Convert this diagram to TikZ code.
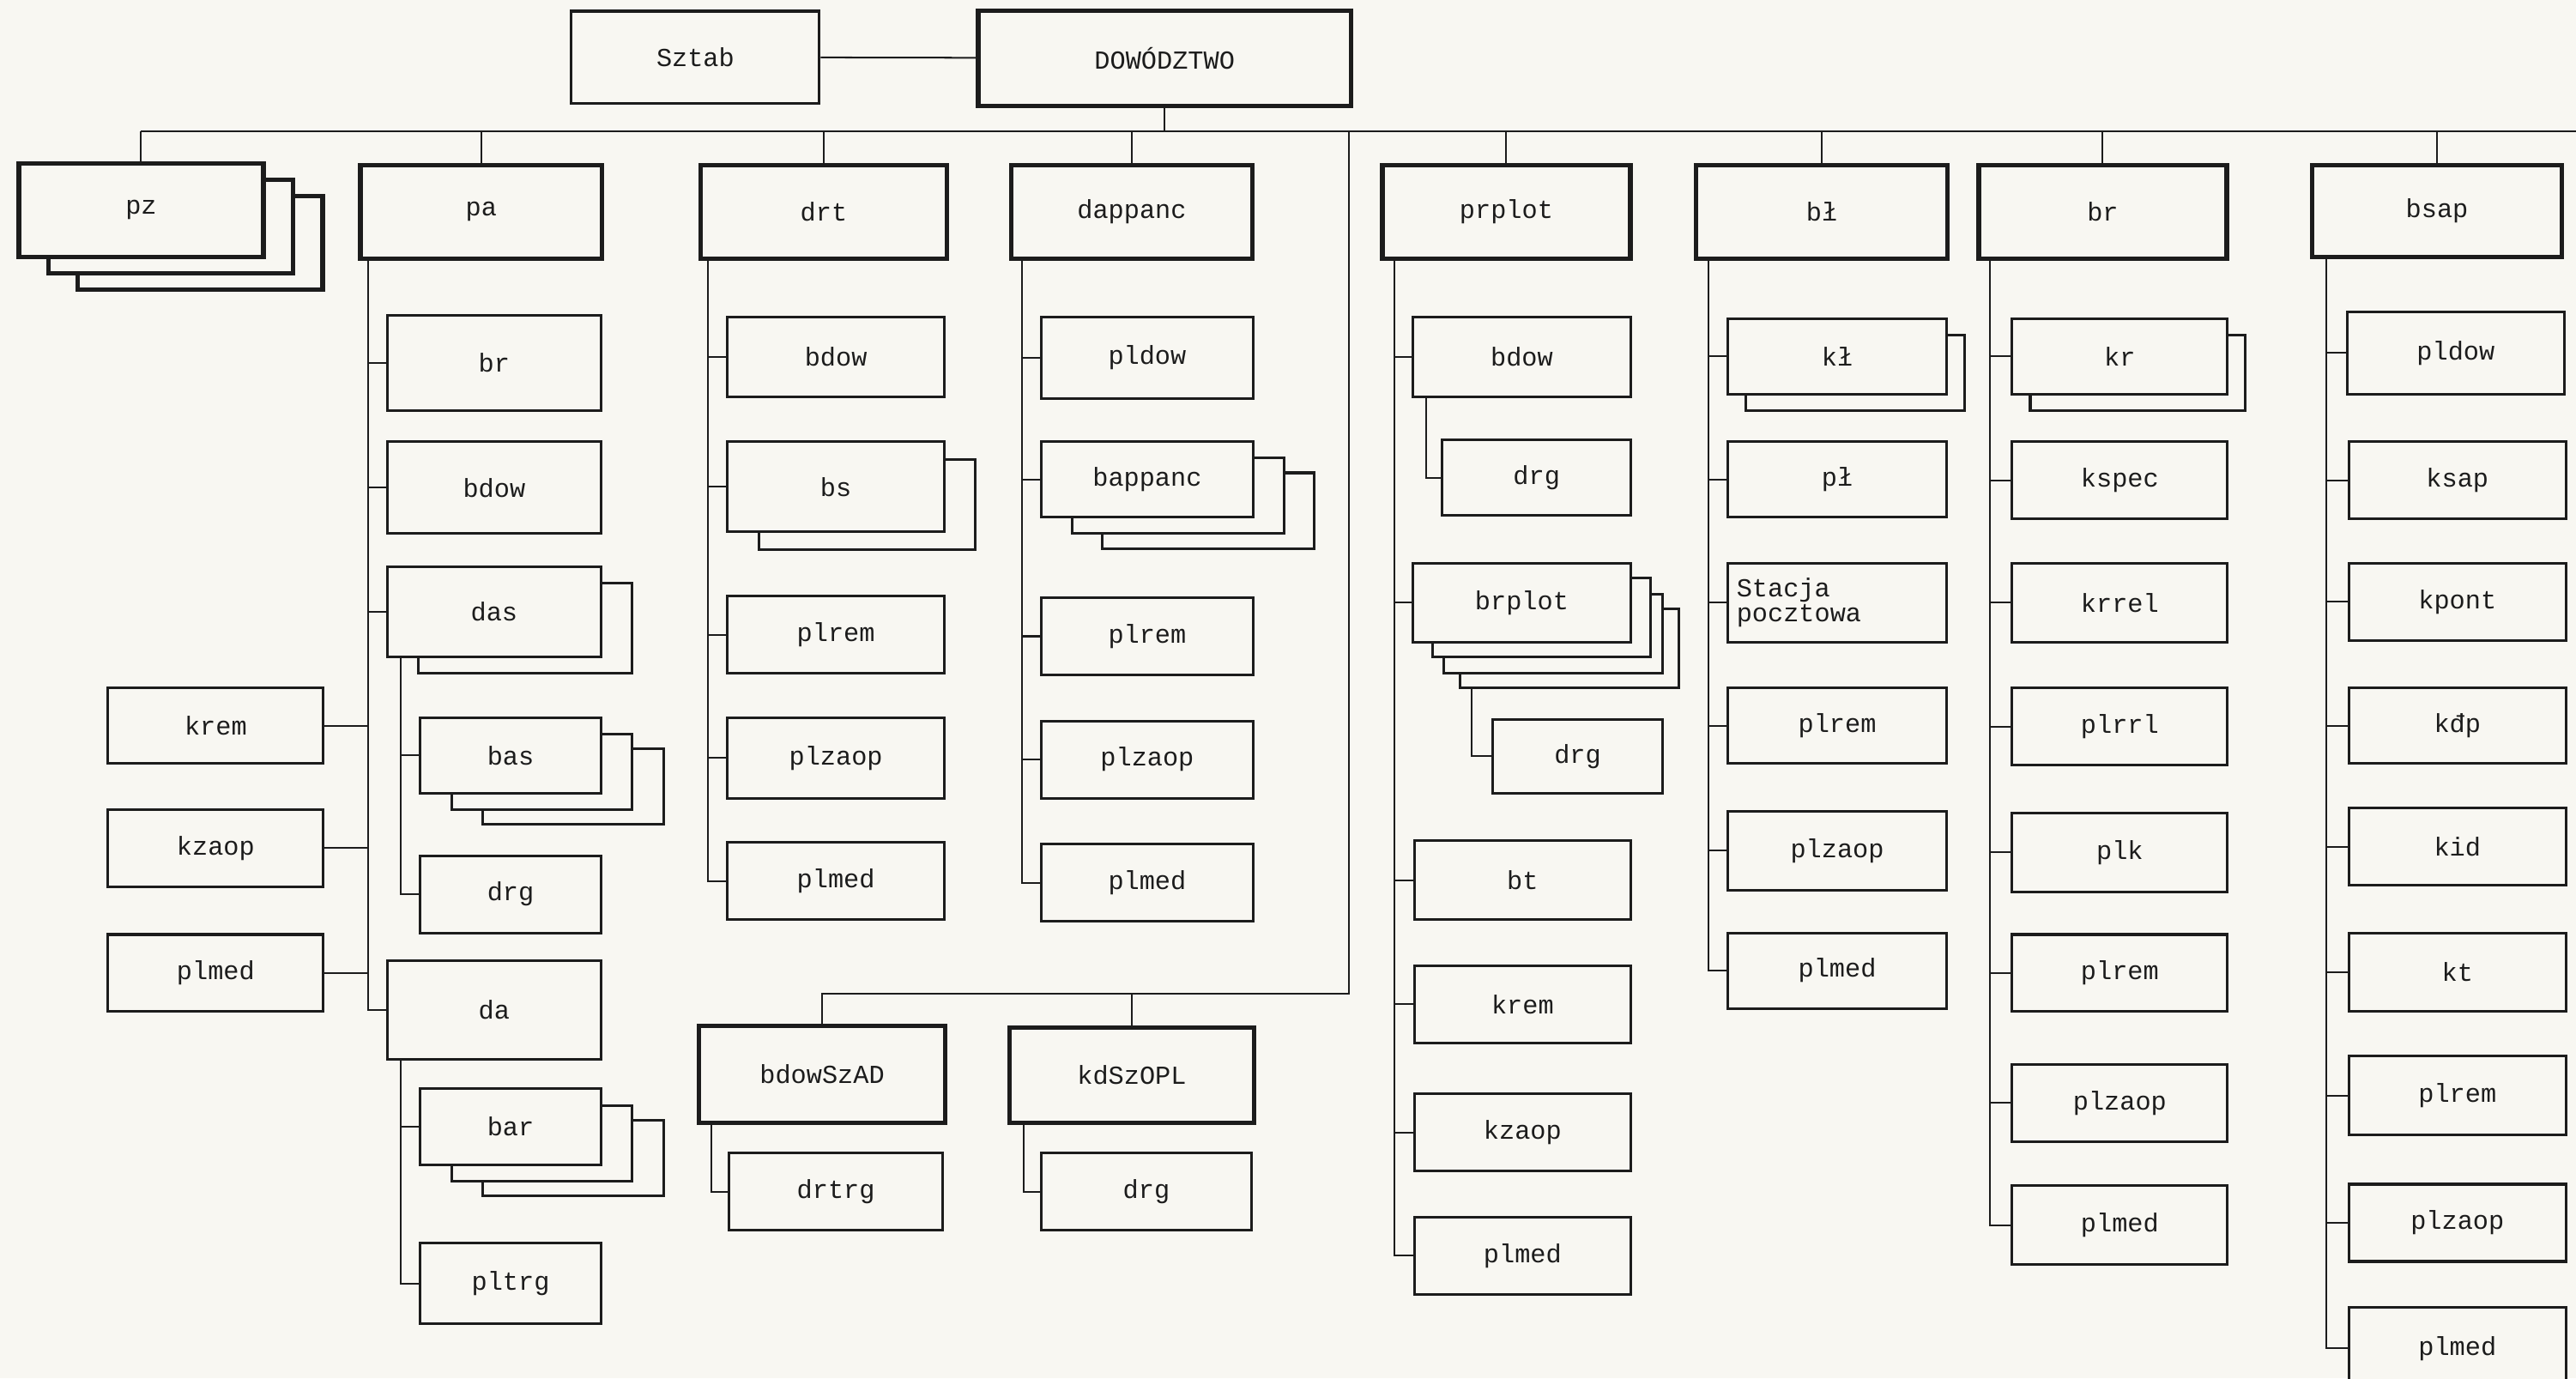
\documentclass[tikz,border=0pt]{standalone}
\usepackage{fontspec}
\setmonofont{Liberation Mono}
\usetikzlibrary{shadows}
\definecolor{paper}{HTML}{F8F7F2}
\definecolor{ink}{HTML}{1C1C1C}

\begin{document}
\begin{tikzpicture}[
  x=0.02cm, y=-0.02cm,
  box/.style={draw=ink, fill=paper, line width=0.9pt, anchor=north west, inner sep=0pt, text=ink, font=\ttfamily\fontsize{9}{9}\selectfont},
  head/.style={box, line width=1.6pt},
  sz/.style 2 args={minimum width=#1*0.02cm, minimum height=#2*0.02cm},
  shad/.style 2 args={copy shadow={shadow xshift=#1*0.02cm, shadow yshift=-#2*0.02cm, fill=paper, draw=ink}},
  link/.style={draw=ink, line width=0.6pt}
]
\useasboundingbox (0,0) rectangle (1568,839);
\fill[paper] (0,0) rectangle (1568,839);
\clip (0,0) rectangle (1568,839);

% top
\node[box, sz={151}{56}] (sztab) at (347,6) {Sztab};
\node[head, sz={227}{58}] (dow) at (594,5) {DOWÓDZTWO};

\node[head, sz={149}{57}, shad={36}{20}, shad={18}{10}] (pz) at (10,98) {pz};
\node[head, sz={147}{57}] (pa) at (218,99) {pa};
\node[head, sz={150}{57}] (drt) at (425,99) {drt};
\node[head, sz={147}{57}] (dappanc) at (614,99) {dappanc};
\node[head, sz={151}{57}] (prplot) at (840,99) {prplot};
\node[head, sz={153}{57}] (bl) at (1031,99) {bł};
\node[head, sz={151}{57}] (br) at (1203,99) {br};
\node[head, sz={152}{56}] (bsap) at (1406,99) {bsap};

% pa
\node[box, sz={130}{58}] (pabr) at (235,191) {br};
\node[box, sz={130}{56}] (pabdow) at (235,268) {bdow};
\node[box, sz={130}{55}, shad={19}{10}] (das) at (235,344) {das};
\node[box, sz={110}{46}, shad={38}{19}, shad={19}{10}] (bas) at (255,436) {bas};
\node[box, sz={110}{47}] (dasdrg) at (255,520) {drg};
\node[box, sz={130}{60}] (da) at (235,584) {da};
\node[box, sz={110}{46}, shad={38}{19}, shad={19}{10}] (bar) at (255,662) {bar};
\node[box, sz={110}{49}] (pltrg) at (255,756) {pltrg};
\node[box, sz={131}{46}] (pakrem) at (65,418) {krem};
\node[box, sz={131}{47}] (pakzaop) at (65,492) {kzaop};
\node[box, sz={131}{47}] (paplmed) at (65,568) {plmed};

% drt
\node[box, sz={132}{49}] (drtbdow) at (442,192) {bdow};
\node[box, sz={132}{55}, shad={19}{11}] (bs) at (442,268) {bs};
\node[box, sz={132}{47}] (drtplrem) at (442,362) {plrem};
\node[box, sz={132}{49}] (drtplzaop) at (442,436) {plzaop};
\node[box, sz={132}{47}] (drtplmed) at (442,512) {plmed};

% dappanc
\node[box, sz={129}{50}] (dappldow) at (633,192) {pldow};
\node[box, sz={129}{46}, shad={37}{19}, shad={19}{10}] (bappanc) at (633,268) {bappanc};
\node[box, sz={129}{47}] (dapplrem) at (633,363) {plrem};
\node[box, sz={129}{47}] (dapplzaop) at (633,438) {plzaop};
\node[box, sz={129}{47}] (dapplmed) at (633,513) {plmed};

\node[head, sz={150}{59}] (bdowszad) at (424,623) {bdowSzAD};
\node[head, sz={149}{58}] (kdszopl) at (613,624) {kdSzOPL};
\node[box, sz={130}{47}] (drtrg) at (443,701) {drtrg};
\node[box, sz={128}{47}] (kddrg) at (633,701) {drg};

% prplot
\node[box, sz={133}{49}] (ppbdow) at (859,192) {bdow};
\node[box, sz={115}{46}] (ppdrg) at (877,267) {drg};
\node[box, sz={133}{48}, shad={29}{28}, shad={19}{19}, shad={12}{9}] (brplot) at (859,342) {brplot};
\node[box, sz={103}{45}] (brdrg) at (908,437) {drg};
\node[box, sz={132}{48}] (bt) at (860,511) {bt};
\node[box, sz={132}{47}] (ppkrem) at (860,587) {krem};
\node[box, sz={132}{47}] (ppkzaop) at (860,665) {kzaop};
\node[box, sz={132}{47}] (ppplmed) at (860,740) {plmed};

% bl
\node[box, sz={133}{46}, shad={11}{10}] (kl) at (1051,193) {kł};
\node[box, sz={133}{46}] (pl) at (1051,268) {pł};
\node[box, sz={133}{48}, inner xsep=3pt, text width=2.45cm, align=left, font=\ttfamily\fontsize{9}{8.5}\selectfont] (stacja) at (1051,342) {Stacja\\pocztowa};
\node[box, sz={133}{46}] (blplrem) at (1051,418) {plrem};
\node[box, sz={133}{48}] (blplzaop) at (1051,493) {plzaop};
\node[box, sz={133}{46}] (blplmed) at (1051,567) {plmed};

% br
\node[box, sz={131}{46}, shad={11}{10}] (kr) at (1224,193) {kr};
\node[box, sz={131}{47}] (kspec) at (1224,268) {kspec};
\node[box, sz={131}{48}] (krrel) at (1224,342) {krrel};
\node[box, sz={131}{47}] (plrrl) at (1224,418) {plrrl};
\node[box, sz={131}{48}] (plk) at (1224,494) {plk};
\node[box, sz={131}{47}] (brplrem) at (1224,568) {plrem};
\node[box, sz={131}{47}] (brplzaop) at (1224,647) {plzaop};
\node[box, sz={131}{48}] (brplmed) at (1224,721) {plmed};

% bsap
\node[box, sz={132}{50}] (sppldow) at (1428,189) {pldow};
\node[box, sz={132}{47}] (ksap) at (1429,268) {ksap};
\node[box, sz={132}{47}] (kpont) at (1429,342) {kpont};
\node[box, sz={132}{46}] (kdp) at (1429,418) {kđp};
\node[box, sz={132}{47}] (kid) at (1429,491) {kid};
\node[box, sz={132}{48}] (kt) at (1429,567) {kt};
\node[box, sz={132}{48}] (spplrem) at (1429,642) {plrem};
\node[box, sz={132}{47}] (spplzaop) at (1429,720) {plzaop};
\node[box, sz={132}{50}] (spplmed) at (1429,795) {plmed};

% connectors
\coordinate (busEnd) at (1568,80);
\coordinate (sideTop) at (821,80);
\coordinate (sideBend) at (821,605);
\coordinate (paV) at ([xshift=0.12cm]pa.south west);
\draw[link] (sztab) -- (dow);
\draw[link] (dow.south) -- (dow.south |- busEnd);
\draw[link] (pz.north |- busEnd) -- (busEnd);
\foreach \h in {pz,pa,drt,dappanc,prplot,bl,br,bsap}
  \draw[link] (\h.north) -- (\h.north |- busEnd);

\foreach \c in {pabr,pabdow,das,da} \draw[link] (paV) |- (\c.west);
\foreach \c in {pakrem,pakzaop,paplmed} \draw[link] (\c.east) -- (\c.east -| paV);
\foreach \c in {bas,dasdrg} \draw[link] ([xshift=0.18cm]das.south west) |- (\c.west);
\foreach \c in {bar,pltrg} \draw[link] ([xshift=0.18cm]da.south west) |- (\c.west);

\foreach \c in {drtbdow,bs,drtplrem,drtplzaop,drtplmed} \draw[link] ([xshift=0.12cm]drt.south west) |- (\c.west);
\foreach \c in {dappldow,bappanc,dapplrem,dapplzaop,dapplmed} \draw[link] ([xshift=0.16cm]dappanc.south west) |- (\c.west);

\draw[link] (sideTop) -- (sideBend) -| (bdowszad.north);
\draw[link] (kdszopl.north) -- (kdszopl.north |- sideBend);
\draw[link] ([xshift=0.18cm]bdowszad.south west) |- (drtrg.west);
\draw[link] ([xshift=0.2cm]kdszopl.south west) |- (kddrg.west);

\foreach \c in {ppbdow,brplot,bt,ppkrem,ppkzaop,ppplmed} \draw[link] ([xshift=0.18cm]prplot.south west) |- (\c.west);
\draw[link] ([xshift=0.18cm]ppbdow.south west) |- (ppdrg.west);
\draw[link] ([shift={(37,28)}]brplot.south west) |- (brdrg.west);

\foreach \c in {kl,pl,stacja,blplrem,blplzaop,blplmed} \draw[link] ([xshift=0.18cm]bl.south west) |- (\c.west);
\foreach \c in {kr,kspec,krrel,plrrl,plk,brplrem,brplzaop,brplmed} \draw[link] ([xshift=0.16cm]br.south west) |- (\c.west);
\foreach \c in {sppldow,ksap,kpont,kdp,kid,kt,spplrem,spplzaop,spplmed} \draw[link] ([xshift=0.2cm]bsap.south west) |- (\c.west);
\end{tikzpicture}
\end{document}
